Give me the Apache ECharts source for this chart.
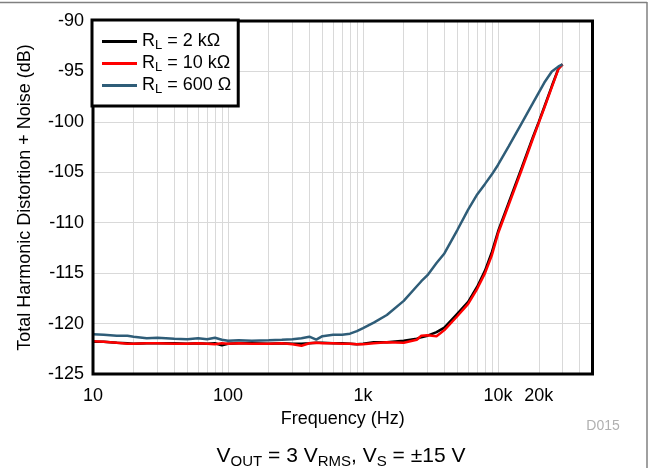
<!DOCTYPE html>
<html>
<head>
<meta charset="utf-8">
<style>html,body{margin:0;padding:0;background:#fff;}#c{width:651px;height:468px;}</style>
<script src="https://cdn.jsdelivr.net/npm/echarts@6/dist/echarts.min.js"></script>
</head>
<body>
<div id="c"></div>
<script>
var freqHz = [10,12,15,18,20,25,30,40,50,60,70,80,90,100,120,150,200,250,300,350,400,450,500,600,700,800,900,1000,1200,1500,2000,2500,2700,3000,3500,4000,5000,6000,7000,8000,9000,10000,12000,15000,18000,20000,22000,25000,28000,30000];
var thdRL2k = [-121.8,-121.8,-121.9,-121.95,-122.0,-121.95,-121.95,-121.95,-122.0,-121.95,-122.0,-121.95,-122.15,-122.0,-121.95,-121.95,-122.0,-121.95,-122.0,-122.0,-121.95,-121.9,-121.9,-121.95,-121.95,-122.0,-122.05,-122.0,-121.85,-121.85,-121.7,-121.5,-121.35,-121.2,-120.85,-120.4,-119.0,-117.85,-116.35,-114.75,-112.9,-110.85,-108.0,-104.5,-101.6,-100.0,-98.5,-96.45,-94.7,-94.3];
var thdRL10k = [-121.75,-121.8,-121.9,-122.0,-122.0,-121.95,-121.95,-122.0,-122.0,-121.95,-122.0,-122.05,-121.95,-122.0,-121.95,-122.0,-122.0,-121.95,-122.05,-122.2,-121.95,-121.9,-121.95,-121.95,-122.0,-122.0,-122.05,-122.05,-121.95,-121.85,-121.9,-121.6,-121.2,-121.15,-121.25,-120.65,-119.25,-118.05,-116.55,-115.0,-113.2,-111.05,-108.2,-104.7,-101.75,-100.1,-98.6,-96.55,-94.75,-94.3];
var thdRL600 = [-121.05,-121.1,-121.2,-121.2,-121.3,-121.45,-121.4,-121.5,-121.55,-121.45,-121.55,-121.4,-121.6,-121.7,-121.65,-121.7,-121.65,-121.6,-121.55,-121.45,-121.3,-121.6,-121.25,-121.1,-121.1,-121.0,-120.75,-120.45,-119.9,-119.15,-117.75,-116.3,-115.8,-115.2,-114.0,-113.05,-110.7,-108.7,-107.2,-106.15,-105.2,-104.25,-102.4,-100.1,-98.2,-97.1,-96.1,-95.0,-94.5,-94.3];
var seriesNames = ['RL2k', 'RL10k', 'RL600'];
var legendLabels = {
  RL2k: '{a|R}{s|L}{a| = 2 k\u03A9}',
  RL10k: '{a|R}{s|L}{a| = 10 k\u03A9}',
  RL600: '{a|R}{s|L}{a| = 600 \u03A9}'
};
var xMinHz = 10, xMaxHz = 50000;
var xLabelHz = [10, 100, 1000, 10000, 20000];
var xLabelText = ['10', '100', '1k', '10k', '20k'];
var yMin = -125, yMax = -90, yStep = 5;

var L = Math.log10;
var gridHz = [];
for (var k = 1; k <= 4; k++) {
  for (var d = 1; d <= 9; d++) {
    var v = d * Math.pow(10, k);
    if (v <= xMaxHz) gridHz.push(v);
  }
}
function pairs(vals) { return freqHz.map(function (f, i) { return [L(f), vals[i]]; }); }
var FONT = 'Liberation Sans, Arial, Helvetica, sans-serif';
var rich = {
  a: { fontSize: 18, fontFamily: FONT, color: '#000', lineHeight: 21 },
  s: { fontSize: 13, fontFamily: FONT, color: '#000', lineHeight: 13, verticalAlign: 'bottom' }
};
var chart = echarts.init(document.getElementById('c'), null, { renderer: 'canvas' });
var option = {
  animation: false,
  backgroundColor: '#fff',
  textStyle: { fontFamily: FONT },
  grid: { left: 93, right: 58.5, top: 21, bottom: 94, show: true, borderColor: '#000', borderWidth: 3, backgroundColor: 'transparent', z: 3 },
  title: [
    { text: '{a|V}{s|OUT}{a| = 3 V}{s|RMS}{a|, V}{s|S}{a| = \u00B115 V}', left: 341, textAlign: 'center', top: 443, padding: 0,
      textStyle: { fontWeight: 'normal', rich: {
        a: { fontSize: 21, fontFamily: FONT, color: '#000', lineHeight: 26, fontWeight: 'normal' },
        s: { fontSize: 15, fontFamily: FONT, color: '#000', lineHeight: 15, verticalAlign: 'bottom', fontWeight: 'normal' } } } },
    { text: 'D015', left: 603, textAlign: 'center', top: 419, padding: 0, textStyle: { fontSize: 14, fontWeight: 'normal', color: '#b0b0b0', fontFamily: FONT } }
  ],
  legend: {
    orient: 'vertical', left: 92, top: 20,
    data: seriesNames,
    icon: 'rect',
    formatter: function (n) { return legendLabels[n]; },
    textStyle: { rich: rich, lineHeight: 21 },
    itemWidth: 35, itemHeight: 3, itemGap: 1,
    padding: [11, 7, 10, 10],
    borderColor: '#000', borderWidth: 3, backgroundColor: '#fff',
    selectedMode: false
  },
  xAxis: {
    type: 'value', min: L(xMinHz), max: L(xMaxHz),
    name: 'Frequency (Hz)', nameLocation: 'middle', nameGap: 33,
    nameTextStyle: { fontSize: 18, color: '#000', fontFamily: FONT },
    axisLine: { show: false },
    axisTick: { show: false, customValues: gridHz.map(L) },
    splitLine: { show: true, lineStyle: { color: '#d9d9d9', width: 1 } },
    axisLabel: {
      customValues: xLabelHz.map(L), margin: 13, fontSize: 18, color: '#000', fontFamily: FONT,
      formatter: function (v) {
        var hz = Math.round(Math.pow(10, v));
        var i = xLabelHz.indexOf(hz);
        return i >= 0 ? xLabelText[i] : '';
      }
    }
  },
  yAxis: {
    type: 'value', min: yMin, max: yMax, interval: yStep,
    name: 'Total Harmonic Distortion + Noise (dB)', nameLocation: 'middle', nameGap: 59,
    nameTextStyle: { fontSize: 18, color: '#000', fontFamily: FONT },
    axisLine: { show: false }, axisTick: { show: false },
    splitLine: { show: true, lineStyle: { color: '#d9d9d9', width: 1 } },
    axisLabel: { margin: 9, fontSize: 18, color: '#000', fontFamily: FONT }
  },
  series: [
    { name: 'RL2k', type: 'line', data: pairs(thdRL2k), symbol: 'none', color: '#000000', lineStyle: { width: 2.5, color: '#000000' }, z: 2 },
    { name: 'RL10k', type: 'line', data: pairs(thdRL10k), symbol: 'none', color: '#ff0000', lineStyle: { width: 2.5, color: '#ff0000' }, z: 2 },
    { name: 'RL600', type: 'line', data: pairs(thdRL600), symbol: 'none', color: '#2f5d78', lineStyle: { width: 2.5, color: '#2f5d78' }, z: 2 }
  ],
  graphic: [
    { type: 'line', shape: { x1: 0, y1: 2.5, x2: 647, y2: 2.5 }, style: { stroke: '#808080', lineWidth: 1.5 } },
    { type: 'line', shape: { x1: 647, y1: 2, x2: 647, y2: 468 }, style: { stroke: '#808080', lineWidth: 1.5 } }
  ]
};
chart.setOption(option);
</script>
</body>
</html>
